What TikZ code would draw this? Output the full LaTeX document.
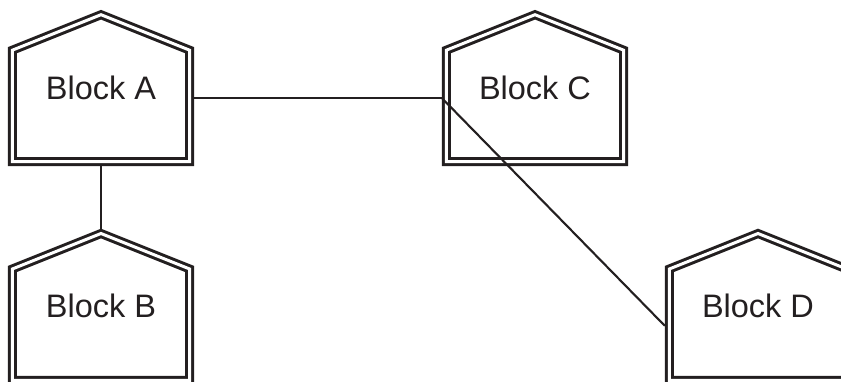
\documentclass[tikz,border=0pt]{standalone}
\usepackage{fontspec}
\setmainfont{Liberation Sans}
\usetikzlibrary{calc}
\definecolor{ink}{HTML}{231F20}

\tikzset{
  houseline/.style={draw=ink, line width=3pt, double=white, double distance=3pt, line join=miter},
  blocklabel/.style={text=ink, anchor=base, inner sep=0pt, font=\fontsize{32.5}{38}\selectfont},
  wire/.style={draw=ink, line width=2.1pt},
  % house-shaped block: apex of the double outline at the pic origin
  house/.pic={
    \draw[houseline] (-88.7,146.8) -- (-88.7,35.5) -- (0,0) -- (88.7,35.5) -- (88.7,146.8) -- cycle;
    \node[blocklabel] (-label) at (0,84.3) {#1};
    \coordinate (-e) at (93.2,83.3);
    \coordinate (-w) at (-93.2,83.3);
    \coordinate (-n) at (0,-4.8);
    \coordinate (-s) at (0,151.3);
  }
}

\begin{document}
\begin{tikzpicture}[x=1pt, y=-1pt]
  \useasboundingbox (0,0) rectangle (841,381);
  \clip (0,0) rectangle (841,381);

  \pic (A) at (101,14.7)  {house=Block A};
  \pic (C) at (535,14.7)  {house=Block C};
  \pic (B) at (101,233.5) {house=Block B};
  \pic (D) at (758,233.5) {house=Block D};

  \draw[wire] (A-e) -- (C-w);
  \draw[wire] (A-s) -- (B-n);
  \draw[wire] (C-w) -- ($(D-w)+(0,9)$);
\end{tikzpicture}
\end{document}
